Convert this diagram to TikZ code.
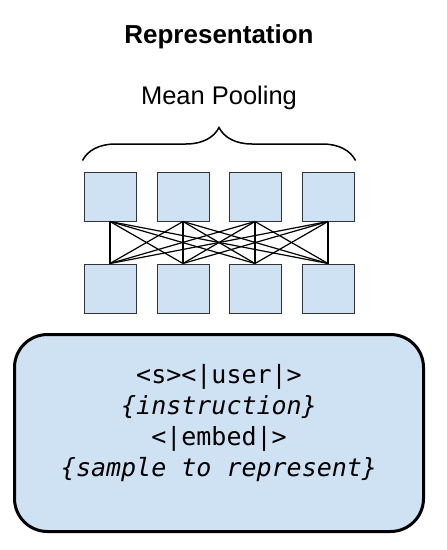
\documentclass[tikz,border=0pt]{standalone}
\usepackage{fontspec}
\setmainfont{Liberation Sans}
\newfontfamily\promptfont{DejaVu Sans Mono}
\usetikzlibrary{decorations.pathreplacing, calc}
\definecolor{tokencolor}{RGB}{207, 226, 243}
\tikzset{
	tokenblock/.style={
		rectangle, fill=tokencolor, draw=black!80, line width=1pt,
		minimum width=52pt, minimum height=49pt, inner sep=0pt
	},
	link/.style={
		line width=1.2pt, color=black
	},
	promptblock/.style={
		rectangle, rounded corners=33pt, fill=tokencolor,
		draw=black, line width=3pt,
		minimum width=409pt, minimum height=197pt
	},
	prompttext/.style={
		align=center, font=\promptfont\fontsize{25}{31}\selectfont
	}
}

\begin{document}
\begin{tikzpicture}[x=1pt, y=-1pt]
		\useasboundingbox (0,0) rectangle (447,550);
		
		%% ===============================
		%%  TITLES
		%% ===============================
		\node[font=\fontsize{26}{28}\selectfont\bfseries] (title) at (219,37) {Representation};
		\node[font=\fontsize{25.5}{28}\selectfont] (pooling) at (219,98) {Mean Pooling};
		
		%% ===============================
		%%  TOKEN ROWS
		%% ===============================
		\foreach \i/\x in {1/110, 2/183, 3/255, 4/328} {
			\node[tokenblock] (top\i) at (\x,196.5) {};
			\node[tokenblock] (bot\i) at (\x,288.5) {};
		}
		
		% brace over the top row
		\draw[line width=1.5pt, decorate, decoration={brace, amplitude=33pt}]
		($(top1.north west)+(-1,-11)$) -- ($(top4.north east)+(1,-11)$);
		
		%% ===============================
		%%  LINKS
		%% ===============================
		\foreach \i in {1,...,4} {
			\foreach \j in {1,...,4} {
				\draw[link] (top\i.south) -- (bot\j.north);
			}
		}
		
		%% ===============================
		%%  PROMPT
		%% ===============================
		\node[promptblock] (prompt) at (219,433) {};
		\node[prompttext] (prompttxt) at (219,423)
		{<s><|user|>\\ \itshape\{instruction\}\\ <|embed|>\\ \itshape\{sample to represent\}};
		
	\end{tikzpicture}
\end{document}
